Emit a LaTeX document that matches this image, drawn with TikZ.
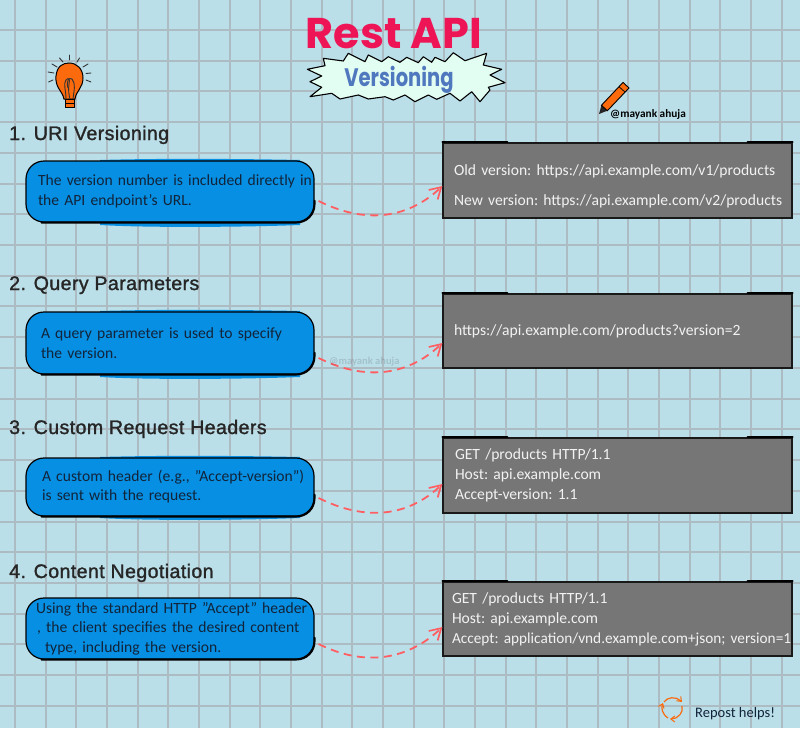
\documentclass[tikz,border=0pt]{standalone}
\usepackage{fontspec}
\usetikzlibrary{arrows.meta}
\setmainfont{Carlito}
\newfontfamily\headf[LetterSpace=2,BoldFont={Liberation Sans},BoldFeatures={FakeBold=1.4,LetterSpace=2}]{Liberation Sans}
\newfontfamily\titlef{Poppins}
\definecolor{bgc}{HTML}{BBDFE9}
\definecolor{gridc}{HTML}{ADBBC3}
\definecolor{blueb}{HTML}{078FE3}
\definecolor{grayb}{HTML}{767676}
\definecolor{redc}{HTML}{FF5F62}
\definecolor{orangec}{HTML}{FB6A0C}
\definecolor{titlec}{HTML}{EE1556}
\definecolor{versc}{HTML}{5078BE}
\definecolor{burst}{HTML}{E2FDF2}
\definecolor{inkb}{HTML}{12243A}
\tikzset{
 x=1pt,y=-1pt,
 heading/.style={anchor=base west,inner sep=0pt,font=\headf\bfseries\fontsize{19.6}{22}\selectfont,text=black!85},
 bluebox/.style={draw=black,fill=blueb,line width=1.2pt,rounded corners=18pt,minimum width=288pt,inner sep=0pt,
   text=inkb,align=left,font=\frenchspacing\fontsize{15.6}{19.5}\selectfont},
 graybox/.style={draw=black!90,fill=grayb,line width=1.2pt,minimum width=349pt,inner sep=0pt,
   text=white!95!black,align=left,font=\frenchspacing\fontsize{15.6}{20}\selectfont},
 conn/.style={draw=redc,line width=1.8pt,dash pattern=on 8pt off 5.5pt,
   -{Straight Barb[length=11pt,width=13pt,line width=1.7pt]}},
 sketch/.style={draw=black,line width=1.8pt,line cap=round,rounded corners=18pt},
 topsk/.style={draw=black,line width=1.8pt,line cap=round},
 ray/.style={draw=black!80,line width=0.9pt,line cap=round},
 reparr/.style={draw=orangec,line width=1.2pt,-{Straight Barb[length=4pt,width=6pt,line width=1pt]}},
}
\newcommand{\bluestrip}[2]{\fill[blueb] (100,#1) .. controls (170,#1-2) and (250,#1-1) .. (300,#1) -- (300,#2) .. controls (250,#2+2) and (150,#2+3) .. (100,#2) -- cycle;}
\newcommand{\sketchlow}[1]{\draw[sketch] ([shift={(16,0)}]#1.south west) -- (#1.south east) -- ([shift={(0,-22)}]#1.south east);}
\newcommand{\sketchtop}[1]{\draw[topsk] ([shift={(0,-0.5)}]#1.north west) -- ([shift={(65,-0.5)}]#1.north west); \draw[topsk] ([shift={(-45,-0.5)}]#1.north east) -- ([shift={(0,-0.5)}]#1.north east);}
\newcommand{\tline}[1]{\mbox{#1}}
\begin{document}
\begin{tikzpicture}
\useasboundingbox (0,0) rectangle (800,728);
\fill[bgc] (0,0) rectangle (800,728);
\foreach \i in {0,...,25} {\draw[gridc,line width=1.6pt] ({round(15+30.67*\i)},0) -- ({round(15+30.67*\i)},728);}
\foreach \i in {0,...,22} {\draw[gridc,line width=1.6pt] (0,{round(30+30.72*\i)}) -- (800,{round(30+30.72*\i)});}

% title
\node[inner sep=0pt,text=titlec,anchor=base] (title) at (394,48) {\titlef\bfseries\fontsize{43}{45}\selectfont Rest API};
\draw[black,line width=1.1pt,fill=burst,line join=round]
 (307.3,69.3) -- (325,65.7) -- (323.3,58.3) -- (343.3,61) -- (348.3,53.3) -- (365,61.7) -- (368.3,55) -- (381.7,61.7)
 -- (388.3,56.7) -- (400,62.3) -- (406.7,57.3) -- (418.3,62.7) -- (423.3,56.7) -- (431.7,62.3) -- (435,57.3) -- (445,61.7)
 -- (453.3,52.7) -- (465,60.7) -- (486.7,53.3) -- (483.3,65) -- (501.7,69.3) -- (490,75) -- (505,82.7) -- (488.3,87.3)
 -- (490,90) -- (480,101.7) -- (471.7,91.7) -- (460,101) -- (450,93.3) -- (436.7,99.3) -- (428.3,95) -- (415,101.7)
 -- (405,95) -- (393.3,100) -- (385,96.7) -- (368.3,99) -- (358.3,95) -- (340,99) -- (331.7,93.3) -- (310,96.7)
 -- (321.7,87.3) -- (310,81.7) -- (321.7,76) -- cycle;
\node[inner sep=0pt,text=versc,anchor=base] (vers) at (399,86) {\scalebox{0.85}[1.1]{\titlef\bfseries\fontsize{23}{25}\selectfont Versioning}};

% bulb
\foreach \a/\b/\c/\d in {69/55/69/60, 59.5/58/63/62, 52/64/57/67, 48/72/54/73, 48.5/82/53/80, 79.5/58/77/62, 88/64/83/67, 91/73/86/73.5, 91/82/86/80}
  {\draw[ray] (\a,\b) -- (\c,\d);}
\draw[black,line width=1pt,fill=orangec] (64,99) .. controls (62,90) and (55,88) .. (56,76) .. controls (57,66) and (63,63) .. (69,63)
  .. controls (77,63) and (83,69) .. (83,78) .. controls (83,88) and (76,91) .. (75,99) -- cycle;
\draw[black,line width=0.9pt,fill=orangec] (65,99) rectangle (74.5,107.5);
\draw[black,line width=0.7pt] (65,103) -- (74.5,103);
\draw[black!80,line width=0.9pt] (66,99) .. controls (66,90) and (63,84) .. (66,80) .. controls (69,77) and (70,79) .. (69,84) .. controls (68,90) and (69,95) .. (70,99);
\draw[black!80,line width=0.9pt] (73,99) .. controls (74,90) and (76,84) .. (72,79) .. controls (69,77) and (66,81) .. (68,88);

% pencil
\fill[black!85] (599,114) -- (601.4,105.3) -- (607.4,110.7) -- cycle;
\draw[black,line width=0.9pt,fill=orangec] (601.4,105.3) -- (623,82.4) -- (629,88) -- (607.4,110.7) -- cycle;
\draw[black,line width=0.7pt] (619,86.7) -- (625,92.1);
\node[inner sep=0pt,anchor=base west,text=black] (author) at (610,117) {\fontsize{11.3}{12}\selectfont\bfseries @mayank ahuja};

% headings
\node[heading] (h1) at (9,140) {1. URI Versioning};
\node[heading] (h2) at (9,290) {2. Query Parameters};
\node[heading] (h3) at (9,434) {3. Custom Request Headers};
\node[heading] (h4) at (9,578) {4. Content Negotiation};

% blue boxes
\bluestrip{160}{225}
\node[bluebox,minimum height=61pt,text width=264pt] (b1) at (170,191.5) {\tline{The version number is included directly in}\\\tline{the API endpoint's URL.}};
\sketchlow{b1}
\bluestrip{311}{377}
\node[bluebox,minimum height=62pt,text width=258pt] (b2) at (170,343) {\tline{A query parameter is used to specify}\\\tline{the version.}};
\sketchlow{b2}
\bluestrip{457}{518}
\node[bluebox,minimum height=58pt,text width=256pt] (b3) at (170,487) {\tline{A custom header (e.g., "Accept-version")}\\\tline{is sent with the request.}\rule[-3pt]{0pt}{1pt}};
\sketchlow{b3}
\node[bluebox,minimum height=61pt,text width=268pt] (b4) at (170,628.5) {\tline{Using the standard HTTP "Accept" header}\\\tline{\hspace*{1pt}, the client specifies the desired content}\\\tline{\hspace*{9pt}type, including the version.}};
\sketchlow{b4}

% gray boxes
\node[graybox,minimum height=75pt,text width=327pt] (g1) at (617.5,180.5) {\rule{0pt}{22pt}\tline{Old version: https://api.example.com/v1/products}\\[10pt]\tline{New version: https://api.example.com/v2/products}};
\sketchtop{g1}
\node[graybox,minimum height=74pt,text width=327pt] (g2) at (617.5,331) {\tline{https://api.example.com/products?version=2}};
\sketchtop{g2}
\node[graybox,minimum height=75pt,text width=325pt] (g3) at (617.5,475.5) {\tline{GET /products HTTP/1.1}\\\tline{Host: api.example.com}\\\tline{Accept-version: 1.1}};
\sketchtop{g3}
\node[graybox,minimum height=74pt,text width=331pt] (g4) at (617.5,619) {\tline{GET /products HTTP/1.1}\\\tline{Host: api.example.com}\\\tline{\fontsize{15.3}{20}\selectfont Accept: application/vnd.example.com+json; version=1}};
\sketchtop{g4}

% connectors
\draw[conn] ([shift={(4,9.5)}]b1.east) .. controls +(42,21) and +(-38,36) .. ([shift={(0,5.5)}]g1.west);
\draw[conn] ([shift={(4,15)}]b2.east) .. controls +(42,21) and +(-38,36) .. ([shift={(0,12)}]g2.west);
\draw[conn] ([shift={(4,11)}]b3.east) .. controls +(42,21) and +(-38,36) .. ([shift={(0,8.5)}]g3.west);
\draw[conn] ([shift={(4,15.5)}]b4.east) .. controls +(42,21) and +(-38,36) .. ([shift={(0,8)}]g4.west);

% watermark
\node[inner sep=0pt,anchor=base west,text=black,opacity=0.13] (wm) at (329,364) {\fontsize{10.5}{12}\selectfont\bfseries @mayank ahuja};

% repost
\draw[reparr] (664,702) .. controls (667,697) and (676,696) .. (682,702);
\draw[reparr] (682,706) .. controls (684,712) and (678,719) .. (670,719);
\draw[reparr] (668,718) .. controls (662,714) and (661,708) .. (663,703);
\node[inner sep=0pt,anchor=base west,text=inkb] (rp) at (695,717) {\fontsize{14.5}{16}\selectfont Repost helps!};
\end{tikzpicture}
\end{document}
